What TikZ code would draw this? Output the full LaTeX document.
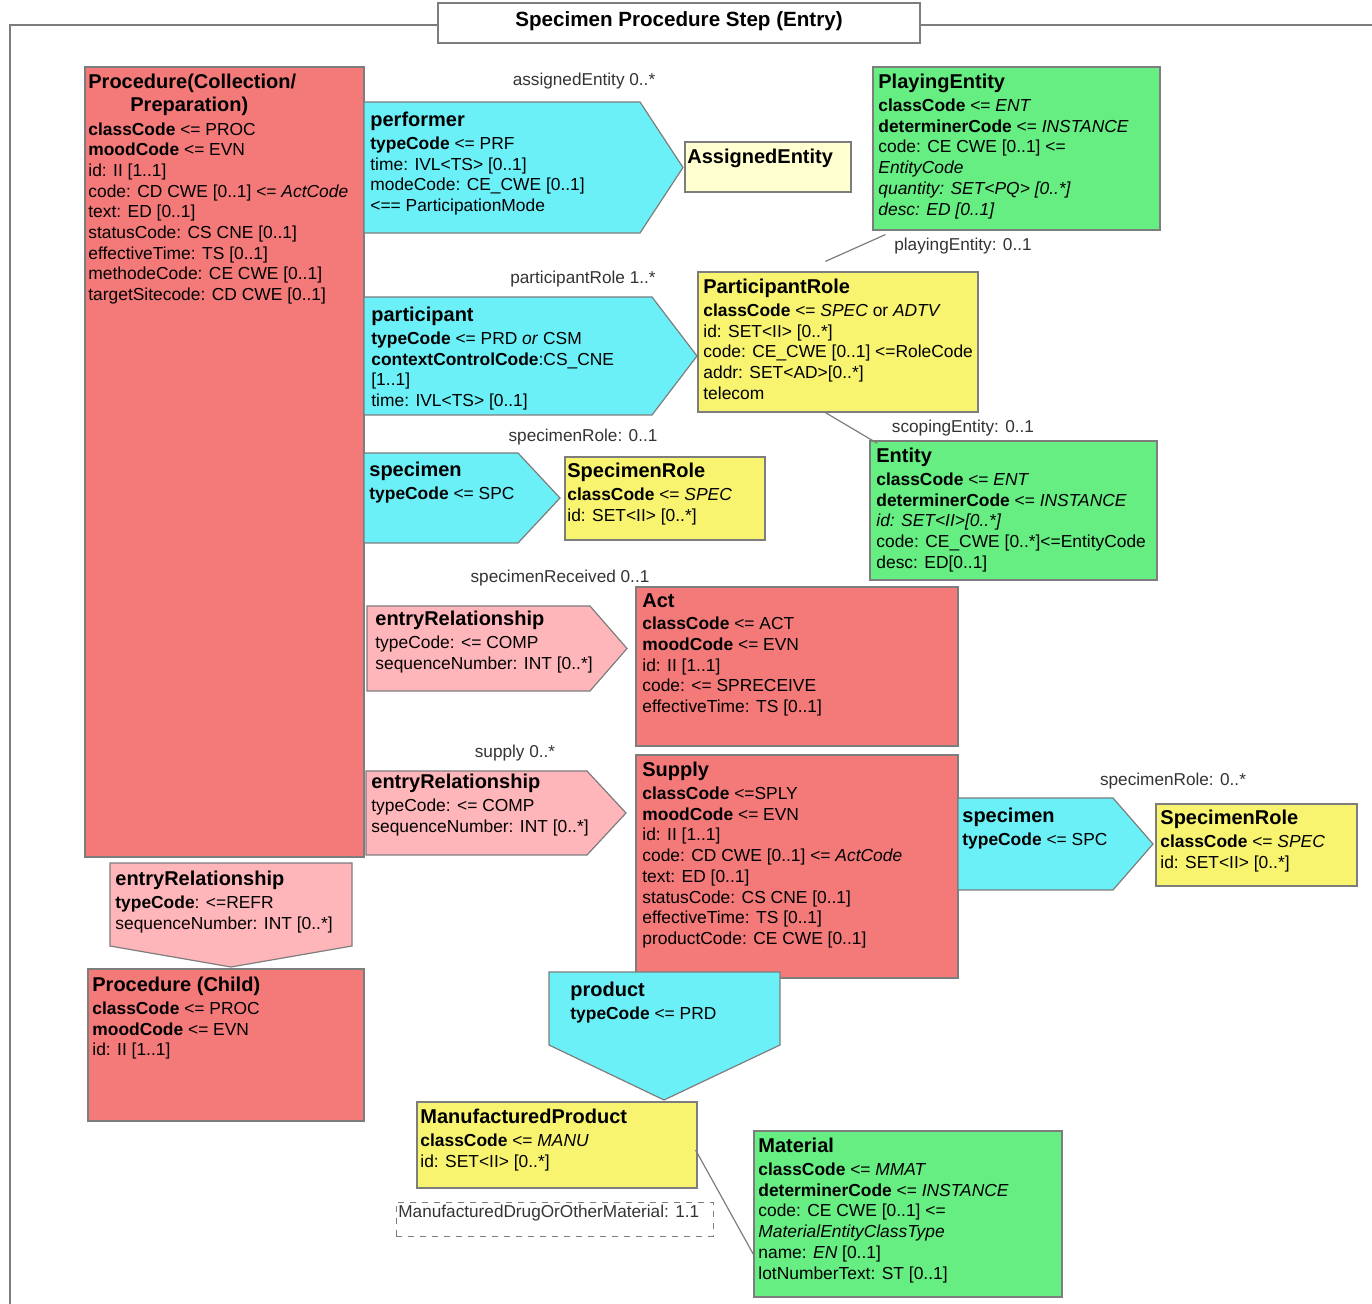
\documentclass[tikz,border=0pt]{standalone}
\usepackage{fontspec}
\setmainfont{Liberation Sans}
\usetikzlibrary{fit}

\definecolor{actred}{RGB}{244,122,122}
\definecolor{relpink}{RGB}{255,182,186}
\definecolor{partcyan}{RGB}{108,240,248}
\definecolor{entgreen}{RGB}{102,238,130}
\definecolor{roleyellow}{RGB}{248,244,112}
\definecolor{assigncream}{RGB}{255,255,208}
\definecolor{edgegray}{RGB}{125,125,125}

\newcommand{\clsname}[1]{{\fontsize{10}{11}\selectfont\bfseries #1}}

\begin{document}
\begin{tikzpicture}[x=0.5pt, y=-0.5pt,
    box/.style={draw=edgegray, line width=0.6pt, inner sep=0pt},
    actbox/.style={box, fill=actred},
    rolebox/.style={box, fill=roleyellow},
    entbox/.style={box, fill=entgreen},
    partarrow/.style={draw=edgegray, line width=0.6pt, fill=partcyan},
    relarrow/.style={draw=edgegray, line width=0.6pt, fill=relpink},
    txt/.style={anchor=north west, align=left, inner sep=0pt, font=\fontsize{8.7}{10.35}\selectfont},
    lbl/.style={inner sep=0pt, text=black!80, font=\fontsize{8.6}{10}\selectfont},
    link/.style={draw=edgegray, line width=0.6pt}]

	\useasboundingbox (0,0) rectangle (1372,1304);

	% --- FRAME AND TITLE ---
	\draw[edgegray, line width=1pt] (10,1304) -- (10,25) -- (1372,25);
	\node[box, fill=white, line width=0.8pt, fit={(438,3) (920,43)}] (frametitle) {};
	\node[font=\fontsize{10.3}{12}\selectfont\bfseries] (titletext) at (679,21) {Specimen Procedure Step (Entry)};

	% --- PARENT PROCEDURE ---
	\node[actbox, fit={(85,67) (364,857)}] (proc) {};
	\node[txt] (procT) at (88,74) {\clsname{Procedure(Collection/}\\[1.2pt]
		\clsname{\hspace*{21pt}Preparation)}\\[1.2pt]
		\textbf{classCode} <= PROC\\
		\textbf{moodCode} <= EVN\\
		id: II [1..1]\\
		code: CD CWE [0..1] <= \textit{ActCode}\\
		text: ED [0..1]\\
		statusCode: CS CNE [0..1]\\
		effectiveTime: TS [0..1]\\
		methodeCode: CE CWE [0..1]\\
		targetSitecode: CD CWE [0..1]};

	% --- PERFORMER ---
	\draw[partarrow] (364,102) -- (640,102) -- (683,167.5) -- (640,233) -- (364,233) -- cycle;
	\node[txt] (perf) at (370,112) {\clsname{performer}\\[1pt]
		\textbf{typeCode} <= PRF\\
		time: IVL<TS> [0..1]\\
		modeCode: CE\_CWE [0..1]\\
		<== ParticipationMode};
	\node[lbl] (assignLbl) at (584,81) {assignedEntity 0..*};
	\node[box, fill=assigncream, fit={(685,142) (851,192)}] (assigned) {};
	\node[txt] (assignedT) at (687,149) {\clsname{AssignedEntity}};

	% --- PLAYING ENTITY ---
	\node[entbox, fit={(873,67) (1160,230)}] (play) {};
	\node[txt] (playT) at (878,74) {\clsname{PlayingEntity}\\[1pt]
		\textbf{classCode} <= \textit{ENT}\\
		\textbf{determinerCode} <= \textit{INSTANCE}\\
		code: CE CWE [0..1] <=\\
		\textit{EntityCode}\\
		\textit{quantity: SET<PQ> [0..*]}\\
		\textit{desc: ED [0..1]}};
	\node[lbl] (playLbl) at (963,246) {playingEntity: 0..1};

	% --- PARTICIPANT ---
	\draw[partarrow] (364,297) -- (652,297) -- (697,356) -- (652,415) -- (364,415) -- cycle;
	\node[txt] (part) at (371,307) {\clsname{participant}\\[1pt]
		\textbf{typeCode} <= PRD \textit{or} CSM\\
		\textbf{contextControlCode}:CS\_CNE\\
		{[1..1]}\\
		time: IVL<TS> [0..1]};
	\node[lbl] (proleLbl) at (583,279) {participantRole 1..*};
	\node[rolebox, fit={(698,272) (978,412)}] (prole) {};
	\node[txt] (proleT) at (703,279) {\clsname{ParticipantRole}\\[1pt]
		\textbf{classCode} <= \textit{SPEC} or \textit{ADTV}\\
		id: SET<II> [0..*]\\
		code: CE\_CWE [0..1] <=RoleCode\\
		addr: SET<AD>[0..*]\\
		telecom};

	% --- SCOPING ENTITY ---
	\node[lbl] (scopeLbl) at (963,428) {scopingEntity: 0..1};
	\node[entbox, fit={(870,441) (1157,580)}] (ent) {};
	\node[txt] (entT) at (876,448) {\clsname{Entity}\\[1pt]
		\textbf{classCode} <= \textit{ENT}\\
		\textbf{determinerCode} <= \textit{INSTANCE}\\
		\textit{id: SET<II>[0..*]}\\
		code: CE\_CWE [0..*]<=EntityCode\\
		desc: ED[0..1]};

	\draw[link] ([shift={(13,4)}]play.south west) -- ([shift={(128,-10)}]prole.north west);
	\draw[link] ([shift={(128,0)}]prole.south west) -- ([shift={(8,3)}]ent.north west);

	% --- SPECIMEN (PROCEDURE) ---
	\draw[partarrow] (364,453) -- (518,453) -- (560,498) -- (518,543) -- (364,543) -- cycle;
	\node[txt] (spec) at (369,462) {\clsname{specimen}\\[1pt]
		\textbf{typeCode} <= SPC};
	\node[lbl] (specLbl) at (583,437) {specimenRole: 0..1};
	\node[rolebox, fit={(565,457) (765,540)}] (srole) {};
	\node[txt] (sroleT) at (567,463) {\clsname{SpecimenRole}\\[1pt]
		\textbf{classCode} <= \textit{SPEC}\\
		id: SET<II> [0..*]};

	% --- SPECIMEN RECEIVED ---
	\node[lbl] (recvLbl) at (560,578) {specimenReceived 0..1};
	\draw[relarrow] (367,606) -- (590,606) -- (627,648.5) -- (590,691) -- (367,691) -- cycle;
	\node[txt] (erAct) at (375,611) {\clsname{entryRelationship}\\[1pt]
		typeCode: <= COMP\\
		sequenceNumber: INT [0..*]};
	\node[actbox, fit={(636,587) (958,746)}] (act) {};
	\node[txt] (actT) at (642,593) {\clsname{Act}\\[1pt]
		\textbf{classCode} <= ACT\\
		\textbf{moodCode} <= EVN\\
		id: II [1..1]\\
		code: <= SPRECEIVE\\
		effectiveTime: TS [0..1]};

	% --- SUPPLY ---
	\node[lbl] (supLbl) at (515,753) {supply 0..*};
	\draw[relarrow] (366,771) -- (587,771) -- (626,813) -- (587,855) -- (366,855) -- cycle;
	\node[txt] (erSup) at (371,774) {\clsname{entryRelationship}\\[1pt]
		typeCode: <= COMP\\
		sequenceNumber: INT [0..*]};
	\node[actbox, fit={(636,755) (958,978)}] (sup) {};
	\node[txt] (supT) at (642,762) {\clsname{Supply}\\[1pt]
		\textbf{classCode} <=SPLY\\
		\textbf{moodCode} <= EVN\\
		id: II [1..1]\\
		code: CD CWE [0..1] <= \textit{ActCode}\\
		text: ED [0..1]\\
		statusCode: CS CNE [0..1]\\
		effectiveTime: TS [0..1]\\
		productCode: CE CWE [0..1]};

	% --- SPECIMEN (SUPPLY) ---
	\draw[partarrow] (958,798) -- (1113,798) -- (1153,844) -- (1113,890) -- (958,890) -- cycle;
	\node[txt] (spec2) at (962,808) {\clsname{specimen}\\[1pt]
		\textbf{typeCode} <= SPC};
	\node[lbl] (spec2Lbl) at (1173,781) {specimenRole: 0..*};
	\node[rolebox, fit={(1156,804) (1357,886)}] (srole2) {};
	\node[txt] (srole2T) at (1160,810) {\clsname{SpecimenRole}\\[1pt]
		\textbf{classCode} <= \textit{SPEC}\\
		id: SET<II> [0..*]};

	% --- CHILD PROCEDURE ---
	\draw[relarrow] (110,863) -- (352,863) -- (352,946) -- (231,967) -- (110,946) -- cycle;
	\node[txt] (erRefr) at (115,871) {\clsname{entryRelationship}\\[1pt]
		\textbf{typeCode}: <=REFR\\
		sequenceNumber: INT [0..*]};
	\node[actbox, fit={(88,969) (364,1121)}] (child) {};
	\node[txt] (childT) at (92,977) {\clsname{Procedure (Child)}\\[1pt]
		\textbf{classCode} <= PROC\\
		\textbf{moodCode} <= EVN\\
		id: II [1..1]};

	% --- PRODUCT ---
	\draw[partarrow] (549,972) -- (780,972) -- (780,1045) -- (664,1100) -- (549,1045) -- cycle;
	\node[txt] (prod) at (570,982) {\clsname{product}\\[1pt]
		\textbf{typeCode} <= PRD};
	\node[rolebox, fit={(417,1102) (697,1188)}] (mprod) {};
	\node[txt] (mprodT) at (420,1109) {\clsname{ManufacturedProduct}\\[1pt]
		\textbf{classCode} <= \textit{MANU}\\
		id: SET<II> [0..*]};
	\node[draw=edgegray, dashed, line width=0.5pt, inner sep=0pt, fit={(396,1202) (713,1236)}] (mdrug) {};
	\node[lbl, anchor=west] (mdrugLbl) at (398,1213) {ManufacturedDrugOrOtherMaterial: 1.1};

	% --- MATERIAL ---
	\node[entbox, fit={(754,1131) (1062,1297)}] (mat) {};
	\node[txt] (matT) at (758,1138) {\clsname{Material}\\[1pt]
		\textbf{classCode} <= \textit{MMAT}\\
		\textbf{determinerCode} <= \textit{INSTANCE}\\
		code: CE CWE [0..1] <=\\
		\textit{MaterialEntityClassType}\\
		name: \textit{EN} [0..1]\\
		lotNumberText: ST [0..1]};
	\draw[link] ([shift={(-2,5)}]mprod.east) -- ([shift={(0,124)}]mat.north west);

\end{tikzpicture}
\end{document}
